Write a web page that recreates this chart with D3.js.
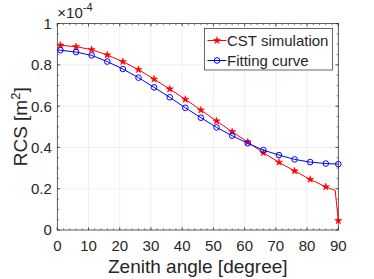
<!DOCTYPE html>
<html>
<head>
<meta charset="utf-8">
<script src="https://cdn.jsdelivr.net/npm/d3@7"></script>
<style>
  body { margin: 0; background: #fff; }
  text { font-family: "Liberation Sans", Arial, Helvetica, sans-serif; fill: #262626; }
</style>
</head>
<body>
<div id="chart"></div>
<script>
// zenith angles (degree) where the curves are sampled
const angles = [0, 1, 6, 11, 16, 21, 26, 31, 36, 41, 46, 51, 56, 61, 66, 71, 76, 81, 86, 89, 90];
// RCS values, in units of 1e-4 m^2
const cstValues = [0.898, 0.895, 0.888, 0.874, 0.848, 0.816, 0.777, 0.731, 0.683, 0.633, 0.581, 0.528, 0.476, 0.426, 0.374, 0.328, 0.286, 0.245, 0.209, 0.192, 0.045];
const fitValues = [0.872, 0.871, 0.862, 0.846, 0.816, 0.780, 0.738, 0.691, 0.643, 0.592, 0.544, 0.497, 0.457, 0.420, 0.387, 0.363, 0.342, 0.329, 0.322, 0.320, 0.319];
// angles that get a marker
const markerAngles = [1, 6, 11, 16, 21, 26, 31, 36, 41, 46, 51, 56, 61, 66, 71, 76, 81, 86, 90];

const xTicks = [0, 10, 20, 30, 40, 50, 60, 70, 80, 90];
const yTicks = [0, 0.2, 0.4, 0.6, 0.8, 1];
const seriesNames = ['CST simulation', 'Fitting curve'];

const width = 374, height = 279;
const margin = { left: 57.3, right: 374 - 338.3, top: 23.6, bottom: 279 - 230 };
const iw = width - margin.left - margin.right;
const ih = height - margin.top - margin.bottom;
const axisColor = '#262626';

const svg = d3.select('#chart').append('svg')
  .attr('width', width)
  .attr('height', height);

const g = svg.append('g').attr('transform', `translate(${margin.left},${margin.top})`);

const x = d3.scaleLinear().domain([0, 90]).range([0, iw]);
const y = d3.scaleLinear().domain([0, 1]).range([ih, 0]);

// grid
g.selectAll('.gx').data(xTicks).enter().append('line')
  .attr('x1', d => x(d)).attr('x2', d => x(d))
  .attr('y1', 0).attr('y2', ih)
  .attr('stroke', '#e6e6e6').attr('stroke-width', 0.6);
g.selectAll('.gy').data(yTicks).enter().append('line')
  .attr('x1', 0).attr('x2', iw)
  .attr('y1', d => y(d)).attr('y2', d => y(d))
  .attr('stroke', '#e6e6e6').attr('stroke-width', 0.6);

// axes: ticks inward, labels outside
const xMinor = d3.range(0, 90.01, 2);
const yMinor = d3.range(0, 1.001, 0.05);

function tickLines(sel, vals, len, horizontal, pos, dir) {
  sel.selectAll(null).data(vals).enter().append('line')
    .attr('x1', d => horizontal ? x(d) : pos)
    .attr('x2', d => horizontal ? x(d) : pos + dir * len)
    .attr('y1', d => horizontal ? pos : y(d))
    .attr('y2', d => horizontal ? pos + dir * len : y(d))
    .attr('stroke', axisColor).attr('stroke-width', 0.6);
}
const ticks = g.append('g');
tickLines(ticks, xTicks, 3, true, ih, -1);
tickLines(ticks, xTicks, 3, true, 0, 1);
tickLines(ticks, xMinor, 1.6, true, ih, -1);
tickLines(ticks, xMinor, 1.6, true, 0, 1);
tickLines(ticks, yTicks, 3, false, 0, 1);
tickLines(ticks, yTicks, 3, false, iw, -1);
tickLines(ticks, yMinor, 1.6, false, 0, 1);
tickLines(ticks, yMinor, 1.6, false, iw, -1);

g.append('rect')
  .attr('width', iw).attr('height', ih)
  .attr('fill', 'none').attr('stroke', axisColor).attr('stroke-width', 0.7);

g.selectAll('.xl').data(xTicks).enter().append('text')
  .attr('x', d => x(d)).attr('y', ih + 21.5)
  .attr('text-anchor', 'middle')
  .attr('font-size', 15)
  .text(d => d);
g.selectAll('.yl').data(yTicks).enter().append('text')
  .attr('x', -5.5).attr('y', d => y(d) + 5.4)
  .attr('text-anchor', 'end')
  .attr('font-size', 15)
  .text(d => d);

// exponent
const ex = g.append('text').attr('x', 0).attr('y', -6).attr('font-size', 15);
ex.append('tspan').text('\u00d710');
ex.append('tspan').attr('dy', -7).attr('font-size', 11).text('-4');

// axis labels
svg.append('text')
  .attr('x', margin.left + iw / 2).attr('y', 273)
  .attr('text-anchor', 'middle')
  .attr('font-size', 19)
  .text('Zenith angle [degree]');
const yl = svg.append('text')
  .attr('transform', `translate(27,${margin.top + ih / 2}) rotate(-90)`)
  .attr('text-anchor', 'middle')
  .attr('font-size', 19);
yl.append('tspan').text('RCS [m');
yl.append('tspan').attr('dy', -7).attr('font-size', 13).text('2');
yl.append('tspan').attr('dy', 7).text(']');

// series
const series = [
  { name: seriesNames[0], values: cstValues, color: '#ff0000', marker: 'star' },
  { name: seriesNames[1], values: fitValues, color: '#0000ff', marker: 'circle' }
];
const line = d3.line().x(d => x(d[0])).y(d => y(d[1]));
const star = d3.symbol().type(d3.symbolStar).size(16);

function drawMarker(sel, s) {
  if (s.marker === 'star') {
    sel.append('path').attr('d', star).attr('fill', s.color).attr('stroke', s.color).attr('stroke-width', 0.5);
  } else {
    sel.append('circle').attr('r', 2.8).attr('fill', 'none').attr('stroke', s.color).attr('stroke-width', 1);
  }
}

series.forEach(s => {
  const pts = angles.map((a, i) => [a, s.values[i]]);
  g.append('path').datum(pts)
    .attr('d', line)
    .attr('fill', 'none')
    .attr('stroke', s.color)
    .attr('stroke-width', 1);
  const mk = pts.filter(p => markerAngles.includes(p[0]));
  mk.forEach(p => {
    const m = g.append('g').attr('transform', `translate(${x(p[0])},${y(p[1])})`);
    drawMarker(m, s);
  });
});

// legend
const lg = svg.append('g').attr('transform', 'translate(204.5,28.5)');
lg.append('rect').attr('width', 128).attr('height', 41.5)
  .attr('fill', '#fff').attr('stroke', axisColor).attr('stroke-width', 0.7);
series.forEach((s, i) => {
  const row = lg.append('g').attr('transform', `translate(0,${12 + i * 20})`);
  row.append('line').attr('x1', 3).attr('x2', 22).attr('stroke', s.color).attr('stroke-width', 1);
  const m = row.append('g').attr('transform', 'translate(12.5,0)');
  drawMarker(m, s);
  row.append('text').attr('x', 22.5).attr('y', 5.5).attr('font-size', 15).text(s.name);
});
</script>
</body>
</html>
